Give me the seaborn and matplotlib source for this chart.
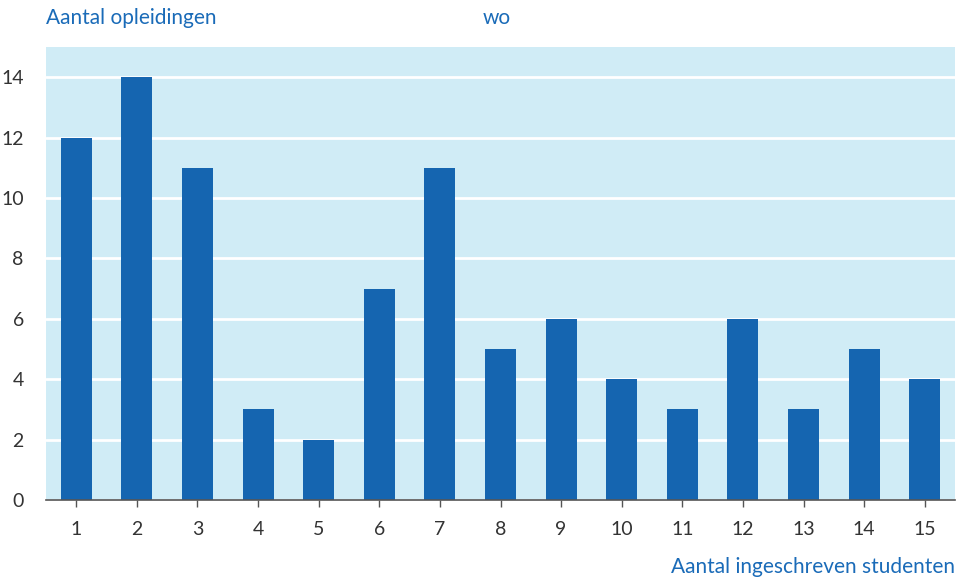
import matplotlib
matplotlib.use("Agg")
import matplotlib.pyplot as plt
import seaborn as sns
import pandas as pd

# Aantal ingeschreven studenten per opleiding (categorie) en aantal opleidingen
categories = [str(i) for i in range(1, 16)]
counts = [12, 14, 11, 3, 2, 7, 11, 5, 6, 4, 3, 6, 3, 5, 4]
y_ticks = [0, 2, 4, 6, 8, 10, 12, 14]

BAR = "#1565b0"
BG = "#d0ecf6"
BLUE_TEXT = "#1a6bb8"
DARK = "#333333"

sns.set_theme(style="white")
plt.rcParams["font.family"] = ["Lato", "DejaVu Sans"]

df = pd.DataFrame({"cat": categories, "n": counts})

fig = plt.figure(figsize=(9.64, 5.82), dpi=100)
ax = fig.add_axes([0.0477, 0.1409, 0.9430, 0.7783])
ax.set_facecolor(BG)

sns.barplot(data=df, x="cat", y="n", color=BAR, saturation=1, width=0.51,
            linewidth=0, ax=ax, zorder=3)

ax.set_ylim(0, 15)
ax.set_xlim(-0.5, len(categories) - 0.5)
ax.set_yticks(y_ticks)
ax.yaxis.grid(True, color="white", linewidth=2, zorder=1)
ax.set_axisbelow(True)

for s in ["top", "right", "left"]:
    ax.spines[s].set_visible(False)
ax.spines["bottom"].set_color("#555555")
ax.spines["bottom"].set_linewidth(1.2)
ax.spines["bottom"].set_zorder(4)

ax.tick_params(axis="x", bottom=True, length=5, width=1, color="#555555",
               labelsize=14, labelcolor=DARK, pad=10)
ax.tick_params(axis="y", left=False, labelsize=14, labelcolor=DARK, pad=10)
ax.set_xlabel("")
ax.set_ylabel("")

fig.text(46 / 964, 1 - 18 / 582, "Aantal opleidingen", color=BLUE_TEXT,
         fontsize=15, ha="left", va="center")
fig.text(497 / 964, 1 - 18 / 582, "wo", color=BLUE_TEXT,
         fontsize=15, ha="center", va="center")
fig.text(955 / 964, 1 - 567 / 582, "Aantal ingeschreven studenten",
         color=BLUE_TEXT, fontsize=15, ha="right", va="center")

fig.savefig("out.png", dpi=100)
